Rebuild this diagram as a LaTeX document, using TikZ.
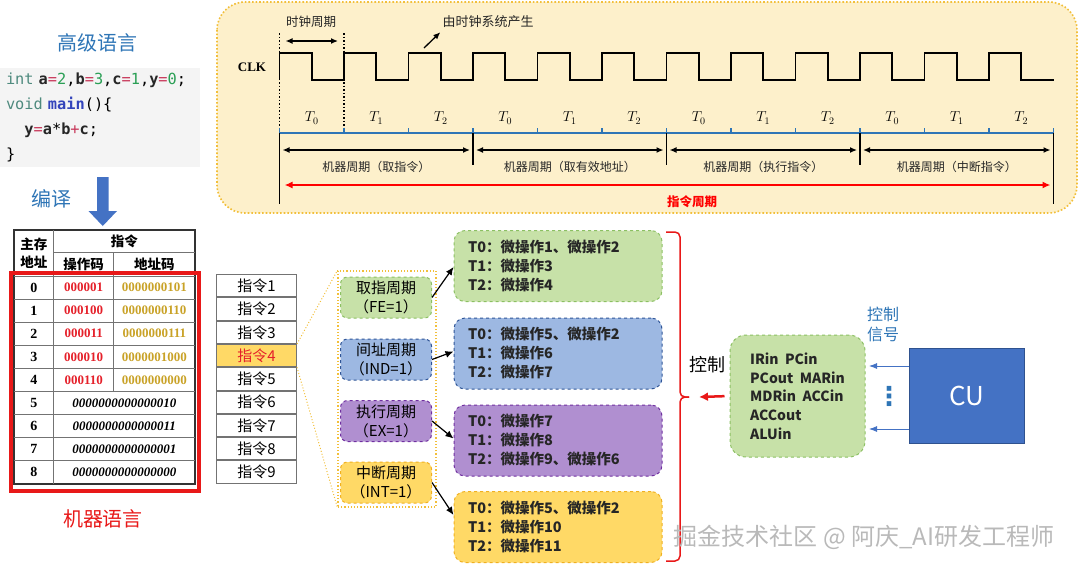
\documentclass[tikz,border=0pt]{standalone}
\usepackage{fontspec}
\setmainfont{Liberation Serif}
\setmonofont{DejaVu Sans Mono}
\newfontfamily\cjk{Noto Sans CJK SC}
\newfontfamily\symb{DejaVu Sans}
\usepackage{xcolor}
\usepackage{tikz}
\usetikzlibrary{positioning, arrows.meta, calc}

\definecolor{panelfill}{HTML}{FDF0CB}
\definecolor{panelline}{HTML}{F2BF3A}
\definecolor{titleblue}{HTML}{2E75B6}
\definecolor{axisblue}{HTML}{2E75B6}
\definecolor{codebg}{HTML}{F4F4F4}
\definecolor{kwc}{HTML}{4E8A7E}
\definecolor{numc}{HTML}{2A9F55}
\definecolor{opc}{HTML}{C8385A}
\definecolor{fnc}{HTML}{3344BB}
\definecolor{opred}{HTML}{E5202A}
\definecolor{adgold}{HTML}{C9A227}
\definecolor{boxred}{HTML}{E81818}
\definecolor{fefill}{HTML}{C7E1A8}
\definecolor{fedraw}{HTML}{8CC063}
\definecolor{indfill}{HTML}{9DB8E2}
\definecolor{inddraw}{HTML}{2F5597}
\definecolor{exfill}{HTML}{B08FD0}
\definecolor{exdraw}{HTML}{7030A0}
\definecolor{intfill}{HTML}{FFD966}
\definecolor{intdraw}{HTML}{F0B020}
\definecolor{cublue}{HTML}{4472C4}
\definecolor{cudraw}{HTML}{2F528F}

\newcommand{\fsz}[2]{\fontsize{#1}{#2}\selectfont}
\newcommand{\ckw}[1]{\textcolor{kwc}{#1}}
\newcommand{\cnum}[1]{\textcolor{numc}{#1}}
\newcommand{\cop}[1]{\textcolor{opc}{#1}}
\newcommand{\cfn}[1]{\textcolor{fnc}{\bfseries #1}}
\newcommand{\cid}[1]{\textcolor{black!85}{\bfseries #1}}

\begin{document}
\begin{tikzpicture}[
  x=1pt, y=-1pt,
  panel/.style={draw=panelline, dotted, line width=1.6pt, fill=panelfill, rounded corners=28pt},
  wave/.style={line width=1.6pt},
  cyc/.style={{Latex[length=7pt, width=6pt]}-{Latex[length=7pt, width=6pt]}, line width=1.3pt},
  lbl/.style={font=\cjk\fsz{12}{14}, text=black!85, inner sep=1pt},
  tlab/.style={font=\fsz{14}{16}, inner sep=0pt},
  axis/.style={draw=axisblue, line width=1.6pt},
  grid/.style={draw=black!55, line width=1pt},
  hd/.style={font=\cjk\bfseries\fsz{13.5}{17.5}, align=center, inner sep=0pt},
  cell/.style={font=\bfseries\fsz{13}{15}, inner sep=0pt},
  insbox/.style={draw=black!55, line width=1pt, fill=white, minimum width=80pt, minimum height=22.3pt, inner sep=0pt, font=\cjk\fsz{15}{17}},
  phase/.style={dashed, line width=1pt, rounded corners=7pt, minimum width=91pt, minimum height=41pt, inner sep=0pt, align=center, font=\cjk\fsz{15}{19}},
  micro/.style={dashed, line width=1pt, rounded corners=11pt, text width=180pt, inner xsep=14pt, minimum height=71pt, align=left, font=\cjk\bfseries\fsz{14.5}{19}, text=black!85},
  link/.style={-{Latex[length=8pt, width=7pt]}, line width=1.2pt},
  brace/.style={draw=boxred, line width=1.5pt, rounded corners=5pt},
  sig/.style={-{Latex[length=8pt, width=6pt]}, draw=cublue, line width=0.9pt}
]
  \useasboundingbox (0,0) rectangle (1080,566);

  % 高级语言 -> 机器语言
  \node[font=\cjk\fsz{20}{24}, text=titleblue] (hll) at (97,43) {高级语言};
  \node[fill=codebg, text width=188pt, inner xsep=6pt, minimum height=99pt, align=left,
        font=\ttfamily\fsz{15.3}{25}] (src) at (100,117.5)
    {\ckw{int} \cid{a}\cop{=}\cnum{2},\cid{b}\cop{=}\cnum{3},\cid{c}\cop{=}\cnum{1},\cid{y}\cop{=}\cnum{0};\\
     \ckw{void} \cfn{main}()\{\\
     \phantom{yy}\cid{y}\cop{=}\cid{a}*\cid{b}\cop{+}\cid{c};\\
     \}};
  \node[font=\cjk\fsz{20}{24}, text=titleblue] (cmpl) at (51,199) {编译};
  \fill[cublue] (97,177) -- (108.5,177) -- (108.5,211) -- (117,211) -- (102.75,226) -- (88.5,211) -- (97,211) -- cycle;

  % 主存表
  \draw[draw=black!80, line width=1.5pt] (14,230) rectangle (195,483.9);
  \draw[grid] (53.7,252) -- (195,252);
  \draw[grid] (53.7,230) -- (53.7,483.9);
  \draw[grid] (113.7,252) -- (113.7,391.5);
  \foreach \i in {0,...,8}
    \draw[grid] (14,{276+23.1*\i}) -- (195,{276+23.1*\i});
  \node[hd] (hdaddr) at (33.8,253) {主存\\地址};
  \node[hd] (hdins) at (124.3,241) {指令};
  \node[hd] (hdop) at (83.7,264) {操作码};
  \node[hd] (hdad) at (154.3,264) {地址码};
  \foreach \i/\op/\ad in {0/000001/0000000101, 1/000100/0000000110, 2/000011/0000000111,
                          3/000010/0000001000, 4/000110/0000000000} {
    \node[cell, font=\bfseries\fsz{14}{16}] (a\i) at (33.8,{287.5+23.1*\i}) {\i};
    \node[cell, text=opred] (op\i) at (83.7,{287.5+23.1*\i}) {\op};
    \node[cell, text=adgold] (ad\i) at (154.3,{287.5+23.1*\i}) {\ad};
  }
  \foreach \i/\w in {5/0000000000000010, 6/0000000000000011, 7/0000000000000001, 8/0000000000000000} {
    \node[cell, font=\bfseries\fsz{14}{16}] (a\i) at (33.8,{287.5+23.1*\i}) {\i};
    \node[cell, font=\bfseries\itshape\fsz{13}{15}] (w\i) at (124.3,{287.5+23.1*\i}) {\w};
  }
  \draw[draw=boxred, line width=4pt] (11,273) rectangle (199,491);
  \node[font=\cjk\fsz{20}{24}, text=boxred] (mlang) at (103,519) {机器语言};

  % 指令序列
  \node[insbox] (ins1) at (256.5,285.7) {指令1};
  \node[insbox, below=0pt of ins1] (ins2) {指令2};
  \node[insbox, below=0pt of ins2] (ins3) {指令3};
  \node[insbox, below=0pt of ins3, fill=intfill, text=opred] (ins4) {指令4};
  \node[insbox, below=0pt of ins4] (ins5) {指令5};
  \node[insbox, below=0pt of ins5] (ins6) {指令6};
  \node[insbox, below=0pt of ins6] (ins7) {指令7};
  \node[insbox, below=0pt of ins7] (ins8) {指令8};
  \node[insbox, below=0pt of ins8] (ins9) {指令9};

  % 四个机器周期
  \node[draw=panelline, dotted, line width=1.2pt, minimum width=98pt, minimum height=236pt] (frame) at (387,389) {};
  \draw[draw=panelline, dotted, line width=1pt] (ins4.north east) -- (frame.north west);
  \draw[draw=panelline, dotted, line width=1pt] (ins4.south east) -- (frame.south west);
  \node[phase, fill=fefill, draw=fedraw] (fe) at (386,297.5) {取指周期\\（FE=1）};
  \node[phase, fill=indfill, draw=inddraw] (ind) at (386,359.5) {间址周期\\（IND=1）};
  \node[phase, fill=exfill, draw=exdraw] (ex) at (386,421) {执行周期\\（EX=1）};
  \node[phase, fill=intfill, draw=intdraw] (intr) at (386,482.5) {中断周期\\（INT=1）};

  \node[micro, fill=fefill, draw=fedraw] (mfe) at (558,266) {T0：微操作1、微操作2\\T1：微操作3\\T2：微操作4};
  \node[micro, fill=indfill, draw=inddraw] (mind) at (558,353.5) {T0：微操作5、微操作2\\T1：微操作6\\T2：微操作7};
  \node[micro, fill=exfill, draw=exdraw] (mex) at (558,440.5) {T0：微操作7\\T1：微操作8\\T2：微操作9、微操作6};
  \node[micro, fill=intfill, draw=intdraw] (mint) at (558,527) {T0：微操作5、微操作2\\T1：微操作10\\T2：微操作11};

  \draw[link] (fe.east) -- ($(mfe.west)+(0,1)$);
  \draw[link] (ind.east) -- ($(mind.west)+(0,-2)$);
  \draw[link] (ex.east) -- ($(mex.west)+(0,-2)$);
  \draw[link] (intr.east) -- ($(mint.west)+(0,-12)$);

  % 控制
  \coordinate (tip) at (689,397);
  \draw[brace] (666,232) -- (680,232) -- (680,397) -- (tip);
  \draw[brace] (666,561) -- (680,561) -- (680,397) -- (tip);
  \node[font=\cjk\fsz{18}{20}] (ctl) at (707,365) {控制};
  \node[fill=fefill, draw=fedraw, dashed, line width=1pt, rounded corners=16pt, minimum width=135pt,
        minimum height=122pt, align=left, font=\cjk\bfseries\fsz{14}{18.7}, text=black!85] (ctrl) at (797.5,396)
    {IRin\ \ PCin\\PCout\ \ MARin\\MDRin\ \ ACCin\\ACCout\\ALUin};
  \draw[-{Latex[length=9pt, width=9pt]}, draw=boxred, line width=2.5pt, shorten <=5pt] (ctrl.west) -- ($(tip)+(10,0)$);

  \node[fill=cublue, draw=cudraw, line width=1pt, minimum width=115pt, minimum height=95pt,
        text=white, font=\cjk\fsz{26}{30}] (cu) at (966.5,395.5) {CU};
  \coordinate (s1) at (869,366);
  \coordinate (s2) at (869,429);
  \draw[sig] (cu.west |- s1) -- (s1);
  \draw[sig] (cu.west |- s2) -- (s2);
  \node[text=titleblue, font=\symb\bfseries\fsz{26}{28}, inner sep=0pt] (dots) at (889,396) {⋮};
  \node[text=titleblue, font=\cjk\fsz{16}{20}, align=center] (sigl) at (883,324) {控制\\信号};

  % 时序图
  \draw[panel] (217,2) rectangle (1077,213);
  \node[font=\bfseries\fsz{13}{15}] (clk) at (252,67) {CLK};
  \draw[wave] (279.5,80) \foreach \k in {0,...,11} { -- ++(0,-27) -- ++(32.25,0) -- ++(0,27) -- ++(32.25,0) };
  \coordinate (c0) at (279.5,33);
  \coordinate (c1) at (344,33);
  \draw[dotted, line width=1.5pt] (c0) -- ++(0,100);
  \draw[dotted, line width=1.5pt] (c1) -- ++(0,100);
  \draw[cyc] ($(c0)+(6,8)$) -- ($(c1)+(-6,8)$);
  \node[lbl, font=\cjk\fsz{12.5}{14}] (clkper) at (311,22) {时钟周期};
  \node[lbl, font=\cjk\fsz{13}{15}] (gen) at (488,22) {由时钟系统产生};
  \draw[-{Latex[length=7pt, width=6pt]}, line width=1.3pt] (424,48) -- ($(gen.south west)+(-1,3)$);

  \foreach \k in {0,...,11} {
    \pgfmathtruncatemacro\tn{mod(\k,3)}
    \node[tlab] (t\k) at ({311.75+64.5*\k},118) {$T_{\tn}$};
  }
  \coordinate (m0) at (279.5,133);
  \coordinate (m1) at (473,133);
  \coordinate (m2) at (666.5,133);
  \coordinate (m3) at (860,133);
  \coordinate (m4) at (1053.5,133);
  \draw[axis] (m0) -- (m4);
  \foreach \k in {0,...,12}
    \draw[axis] ({279.5+64.5*\k},133) -- ++(0,-5);
  \draw[line width=1.6pt] (m0) -- ++(0,71);
  \draw[line width=1.6pt] (m4) -- ++(0,71);
  \foreach \m in {m1,m2,m3}
    \draw[line width=1.6pt] (\m) -- ++(0,32);
  \foreach \a/\b/\t in {m0/m1/取指令, m1/m2/取有效地址, m2/m3/执行指令, m3/m4/中断指令} {
    \draw[cyc] ($(\a)+(3,17)$) -- ($(\b)+(-3,17)$);
    \node[lbl] (mc\a) at ($(\a)!0.5!(\b)+(0,34)$) {机器周期（\t）};
  }
  \draw[{Latex[length=8pt, width=7pt]}-{Latex[length=8pt, width=7pt]}, draw=red, line width=1.8pt]
    ($(m0)+(5,52)$) -- ($(m4)+(-3,52)$);
  \node[lbl, text=red, font=\cjk\bfseries\fsz{12.5}{14}] (icyc) at (692,202) {指令周期};

  \node[text=gray!55, font=\cjk\fsz{24}{28}] (wm) at (864,537) {掘金技术社区 @ 阿庆\_AI研发工程师};
\end{tikzpicture}
\end{document}
